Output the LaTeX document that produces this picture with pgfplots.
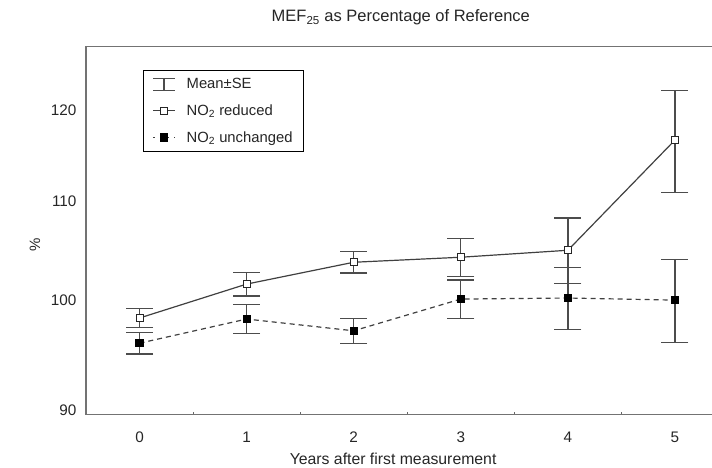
\documentclass[border=0pt]{standalone}
\usepackage{fontspec}
\setmainfont{Liberation Sans}
\usepackage{pgfplots}
\usepackage{pgfplotstable}
\pgfplotsset{compat=1.18}
\pgfplotstableread{
x y e
0 98.3 0.9
1 101.55 1.15
2 103.7 1.05
3 104.2 1.9
4 104.9 3.3
5 116.6 5.7
}\reduced
\pgfplotstableread{
x y e
0 95.95 1.0
1 98.2 1.35
2 97.1 1.15
3 100.1 1.85
4 100.2 3.0
5 100.0 4.0
}\unchanged
\pgfplotsset{
 redleg/.style={legend image code/.code={\draw[##1] (0pt,0pt)--(22pt,0pt); \draw[##1] plot coordinates {(11pt,0pt)};}},
 uncleg/.style={legend image code/.code={\draw[##1, dash pattern=on 2pt off 5pt] (0pt,0pt)--(22pt,0pt); \draw[##1] plot coordinates {(11pt,0pt)};}},
}
\begin{document}
\begin{tikzpicture}
\begin{axis}[
 scale only axis, width=642.5pt, height=368pt,
 xmin=-0.5, xmax=5.5,
 ymode=log, ymin=89.57, ymax=127.5,
 ytick={90,100,110,120}, yticklabels={90,100,110,120},
 minor ytick={},
 xtick={0,1,2,3,4,5}, xticklabels={0,1,2,3,4,5},
 minor xtick={0.5,1.5,2.5,3.5,4.5},
 major tick length=0pt, minor tick length=3pt,
 tick pos=left,
 axis line style={black!55, line width=1.1pt},
 minor tick style={black!60, line width=1pt},
 font=\fontsize{15}{17}\selectfont,
 tick label style={font=\fontsize{15.3}{17}\selectfont, black!85},
 /pgf/number format/assume math mode=true,
 xticklabel style={anchor=base, yshift=-28pt},
 yticklabel style={xshift=-6pt},
 title={MEF\textsubscript{25} as Percentage of Reference},
 title style={at={(axis description cs:0.49,1)}, anchor=base, yshift=19pt, black!85, font=\fontsize{16.5}{18}\selectfont},
 xlabel={Years after first measurement},
 xlabel style={at={(axis description cs:0.478,0)}, anchor=base, yshift=-50pt, black!85, font=\fontsize{15.8}{18}\selectfont},
 ylabel={\%},
 ylabel style={at={(axis description cs:-0.0794,0.462)}, anchor=center, black!85},
 legend style={at={(axis description cs:0.0887,0.9375)}, anchor=north west,
   draw=black, line width=0.8pt, fill=white, inner xsep=9pt, inner ysep=6pt,
   row sep=10.5pt, column sep=9pt, font=\fontsize{14.8}{17}\selectfont,
   nodes={inner sep=2pt, text=black!85}},
 legend cell align=left,
]
\coordinate (O) at (rel axis cs:0,0);
\addlegendimage{legend image code/.code={\draw[black!70, line width=1.3pt] (11pt,-6pt)--(11pt,6pt) (0pt,6pt)--(22pt,6pt) (0pt,-6pt)--(22pt,-6pt);}}
\addlegendentry{Mean±SE}
\addplot[black!75, line width=1.2pt, mark=square*, mark size=3.5pt,
  mark options={solid, fill=white, draw=black!85, line width=1pt},
  redleg,
  error bars/.cd, y dir=both, y explicit, error mark=|,
  error bar style={black!70, line width=1.3pt, solid},
  error mark options={black!70, line width=1.3pt, mark size=13.5pt, solid}]
  table[x=x, y=y, y error=e] {\reduced};
\addlegendentry{NO\textsubscript{2} reduced}
\addplot[black!75, line width=1.2pt, dash pattern=on 5pt off 4pt, mark=square*, mark size=3.5pt,
  mark options={solid, fill=black, draw=black},
  uncleg,
  error bars/.cd, y dir=both, y explicit, error mark=|,
  error bar style={black!70, line width=1.3pt, solid},
  error mark options={black!70, line width=1.3pt, mark size=13.5pt, solid}]
  table[x=x, y=y, y error=e] {\unchanged};
\addlegendentry{NO\textsubscript{2} unchanged}
\end{axis}
\pgfresetboundingbox
\path[use as bounding box] (O) ++(-86pt,-53pt) rectangle ++(712pt,468pt);
\end{tikzpicture}
\end{document}
